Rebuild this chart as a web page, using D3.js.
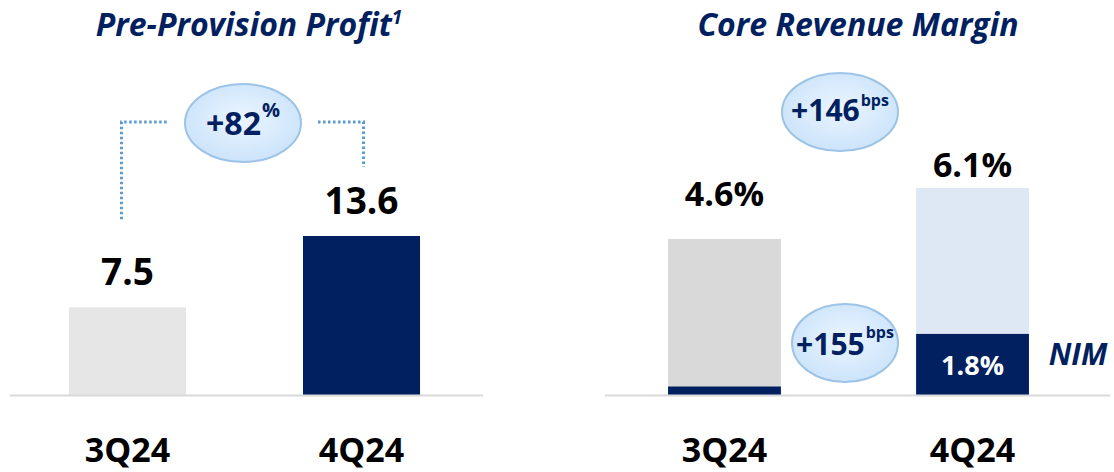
<!DOCTYPE html>
<html><head><meta charset="utf-8">
<script src="https://cdn.jsdelivr.net/npm/d3@7"></script>
<style>
html,body{margin:0;padding:0;background:#fff;}
text{font-family:"Open Sans","Noto Sans",sans-serif;}
</style></head>
<body>
<svg id="c" width="1114" height="472"></svg>
<script>
const categories = ["3Q24", "4Q24"];
const pppValues = [7.5, 13.6];
const pppLabels = ["7.5", "13.6"];
const crmValues = [4.6, 6.1];
const crmLabels = ["4.6%", "6.1%"];
const nimValues = [0.25, 1.8];
const nimLabels = ["", "1.8%"];
const pppChange = "+82", pppChangeUnit = "%";
const crmChange = "+146", nimChange = "+155", bpsUnit = "bps";

const svg = d3.select("#c");
const navy = "#002060";
const base = 395;

const defs = svg.append("defs");
const g = defs.append("radialGradient").attr("id","bub").attr("cx","50%").attr("cy","45%").attr("r","60%");
g.append("stop").attr("offset","0%").attr("stop-color","#ebf5ff");
g.append("stop").attr("offset","100%").attr("stop-color","#c9e2fa");

// ---------- Left panel ----------
const xL = d3.scaleBand().domain(categories).range([10, 479]).paddingInner(0.5).paddingOuter(0.252);
const yL = d3.scaleLinear().domain([0, 13.6]).range([base, 236]);
const pppColors = ["#e6e6e6", navy];

svg.append("text").attr("x", 249).attr("y", 36).attr("text-anchor","middle")
  .attr("font-size", 32).attr("font-weight","bold").attr("font-style","italic").attr("fill", navy)
  .text("Pre-Provision Profit").append("tspan").attr("font-size",19).attr("dy",-12).text("1");

svg.append("g").selectAll("rect").data(pppValues).join("rect")
  .attr("x",(d,i)=>xL(categories[i])).attr("width",xL.bandwidth())
  .attr("y",d=>yL(d)).attr("height",d=>base-yL(d)).attr("fill",(d,i)=>pppColors[i]);

svg.append("line").attr("x1",10).attr("x2",483).attr("y1",base+0.5).attr("y2",base+0.5)
  .attr("stroke","#d9d9d9").attr("stroke-width",2);

svg.append("g").selectAll("text").data(pppValues).join("text")
  .attr("x",(d,i)=>xL(categories[i])+xL.bandwidth()/2).attr("y",d=>yL(d)-22)
  .attr("text-anchor","middle").attr("font-size",37).attr("font-weight","bold").attr("fill","#000")
  .text((d,i)=>pppLabels[i]);

svg.append("g").selectAll("text").data(categories).join("text")
  .attr("x",d=>xL(d)+xL.bandwidth()/2).attr("y",462)
  .attr("text-anchor","middle").attr("font-size",34).attr("font-weight","bold").attr("fill","#000")
  .text(d=>d);

// dotted connectors
const dot = {stroke:"#5b9bd5", "stroke-width":3, "stroke-dasharray":"2.5 2.5", fill:"none"};
const x1c = xL(categories[0])+xL.bandwidth()/2 - 6, x2c = xL(categories[1])+xL.bandwidth()/2 + 2;
const p1 = svg.append("path").attr("d",`M${x1c},${yL(pppValues[0])-88}V122H167`);
const p2 = svg.append("path").attr("d",`M318,122H${x2c}V${yL(pppValues[1])-69}`);
[p1,p2].forEach(p=>Object.entries(dot).forEach(([k,v])=>p.attr(k,v)));

function bubble(cx, cy, rx, ry, main, sup, fs, sfs, dy, sdy) {
  svg.append("ellipse").attr("cx",cx).attr("cy",cy).attr("rx",rx).attr("ry",ry)
    .attr("fill","url(#bub)").attr("stroke","#9dc3e6").attr("stroke-width",2);
  const t = svg.append("text").attr("x",cx).attr("y",cy+dy).attr("text-anchor","middle")
    .attr("font-weight","bold").attr("fill",navy).attr("font-size",fs);
  t.append("tspan").text(main);
  t.append("tspan").attr("font-size",sfs).attr("dy",sdy).attr("dx",1).text(sup);
}
bubble(243, 123, 58, 39, pppChange, pppChangeUnit, 32, 20, 12, -18);

// ---------- Right panel ----------
const xR = d3.scaleBand().domain(categories).range([611, 1086]).paddingInner(0.545).paddingOuter(0.23);
const yR = d3.scaleLinear().domain([0, 6.1]).range([base, 188]);
const crmColors = ["#d9d9d9", "#dde8f4"];
const crmLabelGap = [33, 11];

svg.append("text").attr("x", 858).attr("y", 36).attr("text-anchor","middle")
  .attr("font-size", 32).attr("font-weight","bold").attr("font-style","italic").attr("fill", navy)
  .text("Core Revenue Margin");

svg.append("g").selectAll("rect").data(crmValues).join("rect")
  .attr("x",(d,i)=>xR(categories[i])).attr("width",xR.bandwidth())
  .attr("y",d=>yR(d)).attr("height",d=>base-yR(d)).attr("fill",(d,i)=>crmColors[i]);

svg.append("g").selectAll("rect").data(nimValues).join("rect")
  .attr("x",(d,i)=>xR(categories[i])).attr("width",xR.bandwidth())
  .attr("y",d=>yR(d)).attr("height",d=>base-yR(d)).attr("fill",navy);

svg.append("line").attr("x1",605).attr("x2",1110).attr("y1",base+0.5).attr("y2",base+0.5)
  .attr("stroke","#d9d9d9").attr("stroke-width",2);

svg.append("g").selectAll("text").data(crmValues).join("text")
  .attr("x",(d,i)=>xR(categories[i])+xR.bandwidth()/2).attr("y",(d,i)=>yR(d)-crmLabelGap[i])
  .attr("text-anchor","middle").attr("font-size",34).attr("font-weight","bold").attr("fill","#000")
  .text((d,i)=>crmLabels[i]);

svg.append("g").selectAll("text").data(nimValues).join("text")
  .attr("x",(d,i)=>xR(categories[i])+xR.bandwidth()/2).attr("y",(d)=>(yR(d)+base)/2+11)
  .attr("text-anchor","middle").attr("font-size",27).attr("font-weight","bold").attr("fill","#fff")
  .text((d,i)=>nimLabels[i]);

svg.append("g").selectAll("text").data(categories).join("text")
  .attr("x",d=>xR(d)+xR.bandwidth()/2).attr("y",462)
  .attr("text-anchor","middle").attr("font-size",34).attr("font-weight","bold").attr("fill","#000")
  .text(d=>d);

svg.append("text").attr("x",1078).attr("y",365).attr("text-anchor","middle")
  .attr("font-size",30).attr("font-weight","bold").attr("font-style","italic").attr("fill",navy).text("NIM");

bubble(840, 112, 58, 39, crmChange, bpsUnit, 30, 16, 9, -15);
bubble(845, 343, 53, 39, nimChange, bpsUnit, 30, 16, 12, -17);
</script>
</body></html>
